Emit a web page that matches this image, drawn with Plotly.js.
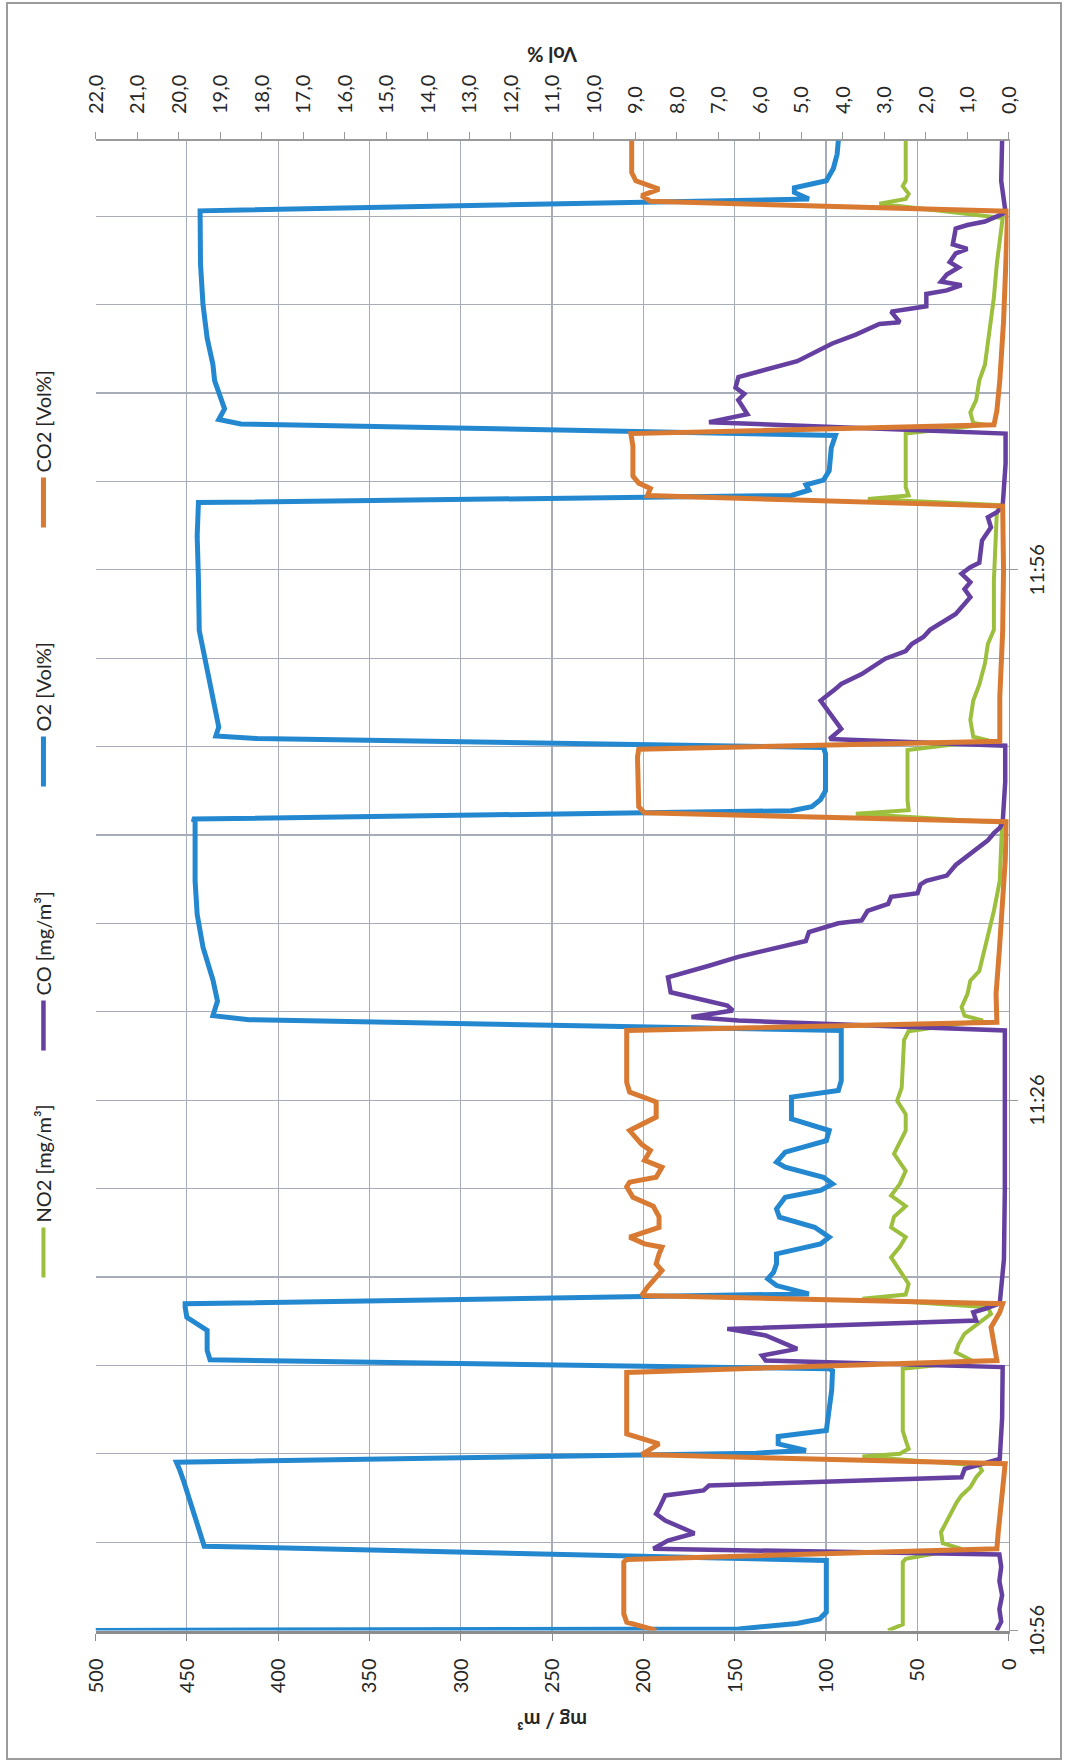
<!DOCTYPE html>
<html><head><meta charset="utf-8">
<script src="https://cdn.plot.ly/plotly-3.0.1.min.js"></script>
<style>
html,body{margin:0;padding:0;background:#fff;width:1068px;height:1763px;overflow:hidden;}
#chart{position:absolute;left:-347.5px;top:347.5px;width:1763px;height:1068px;transform:rotate(-90deg);transform-origin:50% 50%;}
#frame{position:absolute;left:6px;top:2px;width:1056px;height:1758px;border:2px solid #9c9c9c;box-sizing:border-box;pointer-events:none;}
</style></head><body>
<div id="chart"></div><div id="frame"></div>
<script>
// time in minutes after 10:56
const timeTickMinutes = [0, 30, 60];
const timeTickLabels = ['10:56', '11:26', '11:56'];

const tNO2 = [0, 0.35, 3.87, 4.05, 4.62, 4.94, 5.56, 6.22, 6.79, 7.26, 7.64, 8.1, 8.67, 9.05, 9.33, 9.84, 10.0, 10.28, 10.75, 11.3, 14.8, 15.23, 15.74, 16.2, 16.78, 17.16, 17.63, 17.91, 18.29, 18.76, 19.0, 19.6, 20.36, 21.1, 21.7, 22.25, 22.8, 23.4, 24.0, 24.6, 25.26, 26.0, 26.96, 27.9, 28.28, 29.2, 29.97, 30.7, 33.4, 33.9, 34.5, 34.78, 35.26, 36.0, 36.76, 37.3, 38.65, 39.4, 40.7, 42.4, 44.0, 45.7, 46.2, 46.4, 46.95, 49.8, 50.35, 50.55, 51.5, 52.6, 53.5, 54.7, 55.8, 56.6, 59.4, 63.2, 63.65, 64.0, 64.2, 64.67, 67.7, 68.2, 68.3, 68.9, 69.6, 70.7, 71.6, 73.5, 75.4, 77.3, 78.8, 79.9, 80.7, 80.97, 81.26, 81.7, 82.0, 84.28];
const NO2 = [66, 57.9, 57.9, 56.3, 25.7, 36, 37, 33.8, 30.5, 28.3, 25.7, 20.9, 17.7, 14.5, 16.1, 80, 59.5, 54.7, 56.3, 57.9, 57.9, 19.3, 28.9, 27.3, 24.1, 19.3, 12.9, 9.6, 11.3, 80, 56.3, 54.7, 59.5, 64.3, 59.5, 56.3, 64.3, 62.7, 56.3, 64.3, 59.5, 56.3, 62.7, 57.9, 56.3, 56.3, 61, 58.5, 57.2, 54.7, 14, 24.1, 25.7, 22.5, 20.9, 16, 12.9, 11.3, 8, 4.8, 4, 3.5, 83.6, 54.7, 55.3, 55.3, 11, 19.3, 20.9, 19.3, 16, 12.9, 11.3, 8, 8, 6.4, 4.8, 77, 54.7, 56.3, 56.3, 12.9, 19.3, 20.9, 17.7, 16, 12.9, 10.3, 8, 6.4, 4.8, 3.2, 70.7, 56.3, 54.7, 57.9, 56.3, 56.3];

const tCO = [0, 0.5, 1.2, 2.0, 2.8, 3.6, 4.3, 4.62, 5.09, 5.5, 6.22, 6.6, 6.98, 7.64, 7.92, 8.2, 8.67, 9.14, 9.7, 12.0, 14.9, 15.27, 15.55, 15.93, 16.69, 17.06, 17.53, 18.0, 18.2, 18.5, 21.0, 25.0, 30.0, 33.94, 34.5, 34.7, 35.07, 35.35, 36.1, 36.95, 37.6, 38.1, 38.5, 39.0, 39.5, 40.0, 40.16, 40.7, 41.1, 41.5, 41.7, 42.2, 42.4, 42.7, 43.3, 44.1, 44.7, 45.1, 45.4, 45.7, 48.0, 50.05, 50.43, 51.0, 51.94, 52.6, 53.26, 53.54, 54.1, 54.7, 54.97, 55.4, 55.8, 56.2, 56.6, 57.5, 58.45, 58.9, 59.3, 59.77, 60.14, 60.4, 61.65, 62.4, 62.97, 63.25, 63.6, 66.0, 67.7, 68.35, 68.8, 69.6, 69.95, 70.3, 70.9, 71.8, 72.5, 72.8, 73.3, 73.9, 74.0, 74.6, 74.75, 74.9, 75.6, 75.8, 76.1, 76.3, 76.7, 77.1, 77.4, 77.9, 78.15, 78.4, 79.3, 79.5, 79.7, 80.2, 82.0, 84.28];
const CO = [6.5, 4, 5, 3.5, 5, 4, 5, 194.5, 186.5, 172, 188, 193, 191, 188, 167, 164, 25.7, 24, 4.8, 3.5, 3.2, 133, 135, 115.7, 133, 154, 17.7, 19.3, 12.9, 4.8, 2.5, 2, 2, 2, 148, 173.6, 151, 154, 185, 186.5, 164, 148, 131.8, 111, 109.3, 93.2, 80.4, 77.2, 65.9, 64.3, 49.8, 48.2, 45, 33.8, 28.9, 19.3, 11.3, 8, 4.8, 3.2, 1.8, 1.8, 98, 91.6, 98, 102.9, 94.8, 91.6, 80.4, 70.7, 67.5, 56.3, 53, 46.6, 43, 28.9, 20.9, 24.1, 20.9, 25.7, 20.9, 16, 14.5, 9.6, 11.3, 6.4, 3.2, 1.6, 1.6, 164, 143, 148, 144.7, 149.5, 147.9, 115.7, 102.9, 96.5, 83.6, 70.7, 59.5, 64.3, 54.7, 45, 45, 33.8, 25.7, 37, 33.8, 27.3, 32.2, 28.9, 22.5, 30.5, 28.9, 22.5, 12.9, 1.6, 4, 3.5];

const tO2 = [0, 0.09, 0.4, 0.66, 1.04, 2.5, 3.96, 4.77, 5.28, 6.22, 6.98, 7.92, 8.48, 9.14, 9.52, 10.03, 10.18, 10.56, 10.97, 11.31, 12.5, 13.6, 14.7, 14.8, 15.31, 15.84, 16.97, 17.3, 17.72, 18.29, 18.48, 19.04, 19.51, 19.89, 20.27, 20.74, 21.3, 21.87, 22.25, 22.81, 23.38, 23.85, 24.51, 24.89, 25.26, 25.64, 26.21, 26.49, 27.06, 27.71, 28.28, 28.94, 30.17, 30.54, 31.1, 33.94, 34.55, 34.78, 35.6, 36.8, 38.65, 40.5, 42.4, 45.8, 45.9, 46.37, 46.6, 47.0, 47.5, 49.6, 49.95, 50.45, 50.6, 51.1, 52.8, 54.7, 56.56, 59.5, 61.9, 63.8, 64.2, 64.5, 64.8, 65.07, 65.6, 66.9, 67.6, 68.25, 68.5, 69.1, 69.95, 70.7, 71.6, 73.1, 75.0, 77.3, 80.3, 80.97, 81.34, 81.6, 82.0, 82.7, 83.5, 84.28];
const O2 = [22, 6.5, 5.1, 4.55, 4.39, 4.38, 4.39, 19.38, 19.45, 19.55, 19.67, 19.78, 19.88, 19.98, 20.05, 6.08, 4.88, 5.55, 5.55, 4.39, 4.32, 4.26, 4.24, 4.32, 19.24, 19.31, 19.31, 19.52, 19.8, 19.84, 19.84, 4.81, 5.59, 5.8, 5.66, 5.59, 5.59, 4.53, 4.32, 4.67, 5.52, 5.59, 5.38, 4.53, 4.24, 4.46, 5.38, 5.59, 5.38, 4.39, 4.32, 5.23, 5.23, 4.1, 4.03, 4.03, 18.3, 19.17, 19.06, 19.17, 19.41, 19.55, 19.6, 19.6, 19.67, 5.23, 4.74, 4.53, 4.41, 4.41, 4.46, 18.1, 19.1, 19.03, 19.17, 19.35, 19.5, 19.52, 19.55, 19.52, 5.23, 4.81, 4.88, 4.46, 4.32, 4.27, 4.17, 18.5, 19.03, 18.89, 19.03, 19.13, 19.17, 19.31, 19.41, 19.47, 19.48, 4.81, 5.16, 5.16, 4.39, 4.22, 4.13, 4.1];

const tCO2 = [0, 0.47, 0.94, 3.87, 4.02, 4.62, 5.5, 7.0, 8.5, 9.43, 9.95, 10.56, 10.9, 11.12, 14.6, 15.27, 16.2, 17.16, 18.0, 18.48, 18.95, 19.42, 20.36, 20.74, 21.3, 21.68, 21.87, 22.25, 22.8, 23.4, 24.0, 24.5, 25.1, 25.36, 25.64, 26.2, 26.6, 27.15, 27.5, 28.28, 28.38, 29.04, 29.9, 30.45, 31.0, 33.94, 34.4, 36.0, 38.5, 41.0, 43.5, 45.75, 46.25, 46.6, 49.4, 49.85, 50.3, 52.8, 56.56, 60.0, 63.6, 64.2, 64.6, 64.9, 65.3, 67.0, 67.7, 68.2, 69.0, 70.7, 74.0, 77.0, 80.28, 80.84, 81.16, 81.53, 82.0, 82.47, 84.28];
const CO2 = [8.49, 9.2, 9.27, 9.27, 9.2, 0.28, 0.25, 0.2, 0.12, 0.08, 8.84, 8.42, 8.84, 9.2, 9.2, 0.28, 0.35, 0.42, 0.21, 0.14, 8.84, 8.7, 8.35, 8.49, 8.42, 8.35, 8.77, 9.13, 8.42, 8.42, 8.56, 9.05, 9.2, 9.13, 8.49, 8.35, 8.77, 8.63, 8.84, 9.13, 9.05, 8.49, 8.49, 9.13, 9.2, 9.2, 0.28, 0.3, 0.22, 0.14, 0.08, 0.05, 8.77, 8.91, 8.94, 8.91, 0.21, 0.21, 0.14, 0.12, 0.14, 8.7, 8.63, 8.91, 9.05, 9.05, 9.1, 0.35, 0.28, 0.21, 0.12, 0.07, 0.02, 8.63, 8.84, 8.42, 8.98, 9.08, 9.08];

const FONT = 'Lato, "Open Sans", "DejaVu Sans", sans-serif';
const GRID = '#a6acb8';
const TXT = '#262626';

const traces = [
  {type:'scatter', mode:'lines', x:tNO2, y:NO2, name:'NO2 [mg/m³]', yaxis:'y', legendwidth:162, line:{color:'#9dbf3e', width:4}},
  {type:'scatter', mode:'lines', x:tCO, y:CO, name:'CO [mg/m³]', yaxis:'y', legendwidth:199, line:{color:'#6540a0', width:4.5}},
  {type:'scatter', mode:'lines', x:tO2, y:O2, name:'O2 [Vol%]', yaxis:'y2', legendwidth:194, line:{color:'#2388d0', width:5}},
  {type:'scatter', mode:'lines', x:tCO2, y:CO2, name:'CO2 [Vol%]', yaxis:'y2', legendwidth:185, line:{color:'#d97a33', width:5}}
];

const layout = {
  width:1763, height:1068,
  margin:{l:133, r:140, t:95, b:60},
  paper_bgcolor:'#ffffff', plot_bgcolor:'#ffffff',
  separators:',.',
  font:{family:FONT, size:20, color:TXT},
  showlegend:true,
  legend:{orientation:'h', x:0.2336, xanchor:'left', y:1.057, yanchor:'middle',
          font:{family:FONT, size:20, color:TXT}, itemwidth:50, traceorder:'normal',
          bgcolor:'rgba(0,0,0,0)'},
  xaxis:{range:[0, 84.28], tickmode:'array', tickvals:timeTickMinutes, ticktext:timeTickLabels,
         showgrid:true, gridcolor:GRID, gridwidth:1.2,
         minor:{tickmode:'linear', tick0:0, dtick:5, showgrid:true, gridcolor:GRID, gridwidth:1.2, ticks:''},
         showline:true, linecolor:'#9a9a9a', linewidth:1.5, ticks:'outside', ticklen:8, tickcolor:'#9a9a9a',
         zeroline:false, automargin:false, layer:'below traces',
         tickfont:{family:FONT, size:20, color:TXT}, ticklabelstandoff:2},
  yaxis:{range:[0, 500], tickmode:'linear', tick0:0, dtick:50,
         showgrid:true, gridcolor:GRID, gridwidth:1.2,
         showline:true, linecolor:'#8c8c8c', linewidth:3, ticks:'outside', ticklen:7, tickcolor:'#8c8c8c',
         zeroline:false, automargin:false, layer:'below traces',
         tickfont:{family:FONT, size:20, color:TXT}, ticklabelstandoff:14,
         title:{text:'<b>mg / m³</b>', font:{family:FONT, size:20, color:TXT}, standoff:14}},
  yaxis2:{range:[0, 22], tickmode:'linear', tick0:0, dtick:1, tickformat:'.1f',
          overlaying:'y', side:'right', showgrid:false,
          showline:true, linecolor:'#9a9a9a', linewidth:1.5, ticks:'outside', ticklen:7, tickcolor:'#9a9a9a',
          zeroline:false, automargin:false, layer:'below traces',
          tickfont:{family:FONT, size:20, color:TXT}, ticklabelstandoff:14,
          title:{text:'<b>Vol %</b>', font:{family:FONT, size:20, color:TXT}, standoff:14}}
};

Plotly.newPlot('chart', traces, layout, {displayModeBar:false, staticPlot:true});
</script>
</body></html>
